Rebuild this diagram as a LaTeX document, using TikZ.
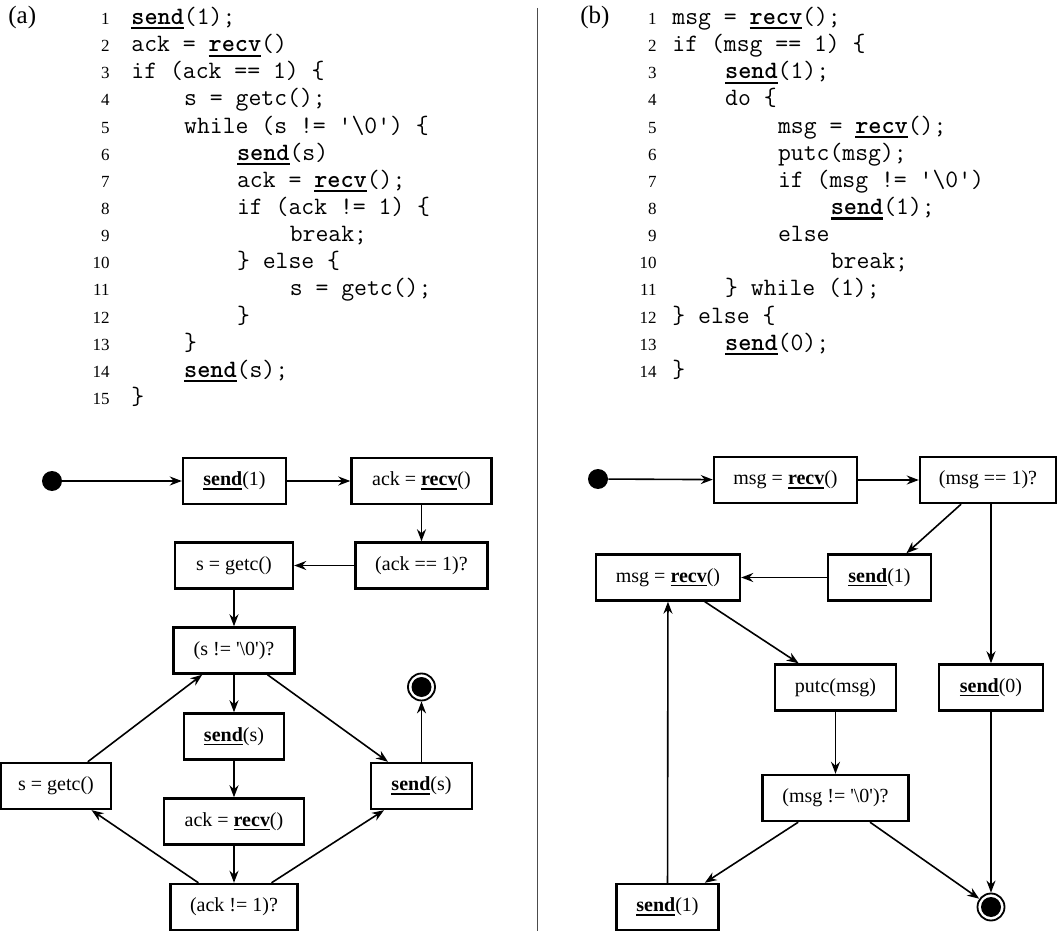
\documentclass[tikz,border=0pt]{standalone}
\usepackage{fontspec}
\setmainfont{Liberation Serif}
\usetikzlibrary{arrows.meta}

\newcommand{\undl}[1]{\leavevmode\setbox0\hbox{#1}\rlap{\rule[-0.2em]{\wd0}{0.085em}}\box0}
\newcommand{\snd}{\undl{\textbf{send}}}
\newcommand{\rcv}{\undl{\textbf{recv}}}
\newcommand{\qt}{\textquotesingle}

\tikzset{
  box/.style={draw, line width=1.2pt, inner sep=0pt, minimum height=23pt, font=\fontsize{10}{12}\selectfont},
  arr/.style={-{Stealth[length=6pt,width=4.5pt]}, line width=0.8pt},
  startdot/.style={circle, fill, inner sep=0pt, minimum size=10pt},
  enddot/.style={circle, draw, line width=0.9pt, inner sep=0pt, minimum size=13.5pt,
    path picture={\fill (path picture bounding box.center) circle (5pt);}},
  codeline/.style={anchor=base west, inner sep=0pt, font=\ttfamily\fontsize{12.5}{14}\selectfont},
  lineno/.style={anchor=base east, inner sep=0pt, font=\fontsize{8.5}{10}\selectfont},
  tag/.style={anchor=base west, inner sep=0pt, font=\fontsize{12.5}{14}\selectfont}
}

\begin{document}
\begin{tikzpicture}[x=0.5pt, y=-0.5pt]
  \useasboundingbox (0,0) rectangle (1057,931);

  % code (a)
  \node[tag] (taga) at (8,24) {(a)};
  \foreach \n/\l/\t in {1/0/{\snd(1);}, 2/0/{ack = \rcv()}, 3/0/{if (ack == 1) \{},
      4/1/{s = getc();}, 5/1/{while (s != \qt\textbackslash 0\qt) \{}, 6/2/{\snd(s)},
      7/2/{ack = \rcv();}, 8/2/{if (ack != 1) \{}, 9/3/{break;}, 10/2/{\} else \{},
      11/3/{s = getc();}, 12/2/{\}}, 13/1/{\}}, 14/1/{\snd(s);}, 15/0/{\}}}
  {
    \node[lineno] at (110,{24.5+27.15*(\n-1)}) {\n};
    \node[codeline] at ({131+52.8*\l},{24.5+27.15*(\n-1)}) {\t};
  }

  % code (b)
  \node[tag] (tagb) at (580,24) {(b)};
  \foreach \n/\l/\t in {1/0/{msg = \rcv();}, 2/0/{if (msg == 1) \{}, 3/1/{\snd(1);},
      4/1/{do \{}, 5/2/{msg = \rcv();}, 6/2/{putc(msg);}, 7/2/{if (msg != \qt\textbackslash 0\qt)},
      8/3/{\snd(1);}, 9/2/{else}, 10/3/{break;}, 11/1/{\} while (1);}, 12/0/{\} else \{},
      13/1/{\snd(0);}, 14/0/{\}}}
  {
    \node[lineno] at (657,{24.5+27.15*(\n-1)}) {\n};
    \node[codeline] at ({672+52.8*\l},{24.5+27.15*(\n-1)}) {\t};
  }

  \draw[line width=0.8pt, black!70] (537.5,8) -- (537.5,931);

  % graph (a)
  \node[startdot] (startA) at (52,481) {};
  \node[box, minimum width=51.5pt] (sendA) at (234.5,481) {\snd(1)};
  \node[box, minimum width=70pt] (ackA) at (421.5,481) {ack = \rcv()};
  \node[box, minimum width=66pt] (ackeq) at (421.5,565.5) {(ack == 1)?};
  \node[box, minimum width=59pt] (getcA) at (234,565.5) {s = getc()};
  \node[box, minimum width=60.5pt] (sne) at (234,650.5) {(s != \qt\textbackslash 0\qt)?};
  \node[box, minimum width=50pt] (sendsA) at (234,736.5) {\snd(s)};
  \node[box, minimum width=70pt] (ackB) at (234,821.5) {ack = \rcv()};
  \node[box, minimum width=63.5pt] (ackne) at (234,907) {(ack != 1)?};
  \node[box, minimum width=55pt] (getcB) at (56,786) {s = getc()};
  \node[box, minimum width=50.5pt] (sendsB) at (421.5,786) {\snd(s)};
  \node[enddot] (endA) at (421.5,687) {};

  \draw[arr] (startA) -- (sendA);
  \draw[arr] (sendA) -- (ackA);
  \draw[arr] (ackA) -- (ackeq);
  \draw[arr] (ackeq) -- (getcA);
  \draw[arr] (getcA) -- (sne);
  \draw[arr] (sne) -- (sendsA);
  \draw[arr] (sne) -- (sendsB);
  \draw[arr] (sendsA) -- (ackB);
  \draw[arr] (ackB) -- (ackne);
  \draw[arr] (ackne) -- (getcB);
  \draw[arr] (ackne) -- (sendsB);
  \draw[arr] (getcB) -- (sne);
  \draw[arr] (sendsB) -- (endA);

  % graph (b)
  \node[startdot] (startB) at (598,479) {};
  \node[box, minimum width=71.5pt] (rcvA) at (785.5,480) {msg = \rcv()};
  \node[box, minimum width=68pt] (msgeq) at (988,480) {(msg == 1)?};
  \node[box, minimum width=51.5pt] (oneA) at (879.5,577.5) {\snd(1)};
  \node[box, minimum width=72pt] (rcvB) at (668,577.5) {msg = \rcv()};
  \node[box, minimum width=60.5pt] (putc) at (835.5,687.5) {putc(msg)};
  \node[box, minimum width=52pt] (zero) at (991,687.5) {\snd(0)};
  \node[box, minimum width=73pt] (msgne) at (835.5,798) {(msg != \qt\textbackslash 0\qt)?};
  \node[box, minimum width=51pt] (oneB) at (667.5,907) {\snd(1)};
  \node[enddot] (endB) at (991,907) {};

  \draw[arr] (startB) -- (rcvA);
  \draw[arr] (rcvA) -- (msgeq);
  \draw[arr] (msgeq) -- (oneA);
  \draw[arr] (msgeq.south -| zero.north) -- (zero.north);
  \draw[arr] (oneA) -- (rcvB);
  \draw[arr] (rcvB) -- (putc);
  \draw[arr] (putc) -- (msgne);
  \draw[arr] (msgne) -- (oneB);
  \draw[arr] (msgne) -- (endB);
  \draw[arr] (zero) -- (endB);
  \draw[arr] (oneB) -- (rcvB);
\end{tikzpicture}
\end{document}
